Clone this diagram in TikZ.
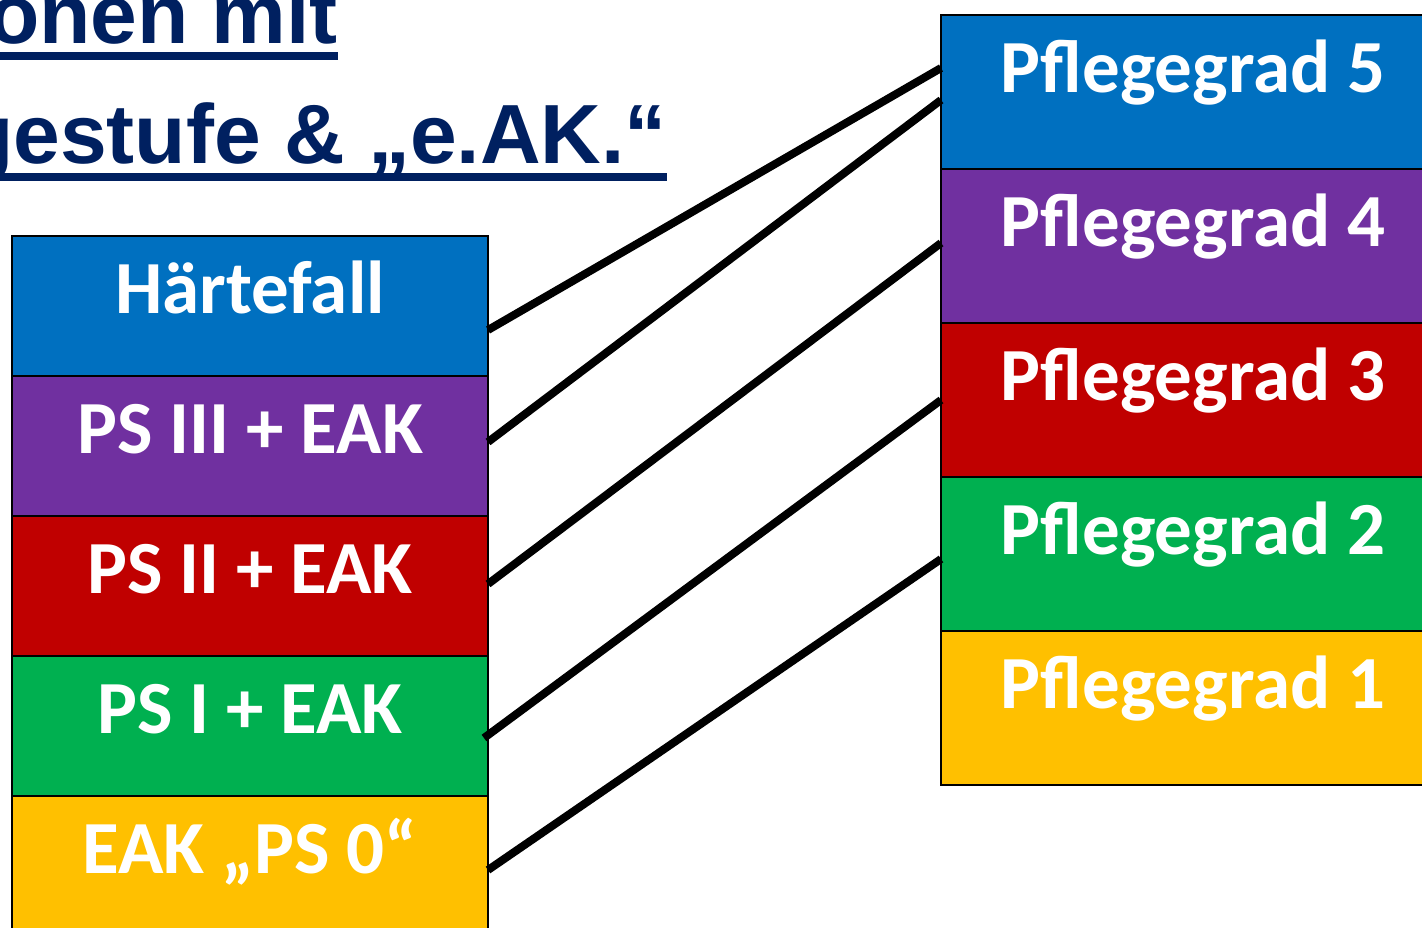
\documentclass[tikz,border=0pt]{standalone}
\usepackage{fontspec}
\setmainfont{Carlito}
\newfontfamily\arialfont{Liberation Sans}
\usetikzlibrary{positioning}
\definecolor{pgblue}{RGB}{0,112,192}
\definecolor{pgviolet}{RGB}{112,48,160}
\definecolor{pgred}{RGB}{192,0,0}
\definecolor{pggreen}{RGB}{0,176,80}
\definecolor{pgyellow}{RGB}{255,192,0}
\definecolor{navy}{RGB}{0,32,96}
\tikzstyle{stufe} = [rectangle, draw=black, line width=1pt, minimum width=238pt, minimum height=70pt, inner sep=0pt, outer sep=0pt, text=white, font=\fontsize{37.5}{37.5}\selectfont\bfseries, text height=38.5pt, text depth=31.5pt]
\tikzstyle{grad} = [stufe, minimum width=252pt, minimum height=77pt, text depth=38.5pt]
\tikzstyle{titel} = [inner sep=0pt, outer sep=0pt, text=navy, font=\arialfont\fontsize{42}{42}\selectfont\bfseries, anchor=base east]
\tikzstyle{ulin} = [navy, line width=4pt]
\tikzstyle{verb} = [black, line width=4pt]

\begin{document}
\begin{tikzpicture}[x=0.5pt, y=-0.5pt, node distance=0pt]

  \useasboundingbox (0,0) rectangle (1422,927);
  \clip (0,0) rectangle (1422,927);

  % title, cut at the page border
  \node (z1) [titel] at (338,43) {onen mit};
  \node (z2) [titel] at (667,163) {gestufe \& „e.AK.“};
  \draw [ulin] ([yshift=-6.5pt]z1.base west) -- ([yshift=-6.5pt]z1.base east);
  \draw [ulin] ([yshift=-7pt]z2.base west) -- ([yshift=-7pt]z2.base east);

  \node (hf)  [stufe, fill=pgblue] at (250,306) {Härtefall};
  \node (ps3) [stufe, fill=pgviolet, below=of hf] {PS III + EAK};
  \node (ps2) [stufe, fill=pgred, below=of ps3] {PS II + EAK};
  \node (ps1) [stufe, fill=pggreen, below=of ps2] {PS I + EAK};
  \node (ps0) [stufe, fill=pgyellow, below=of ps1] {EAK „PS 0“};

  \node (pg5) [grad, fill=pgblue] at (1193,92) {Pflegegrad 5};
  \node (pg4) [grad, fill=pgviolet, below=of pg5] {Pflegegrad 4};
  \node (pg3) [grad, fill=pgred, below=of pg4] {Pflegegrad 3};
  \node (pg2) [grad, fill=pggreen, below=of pg3] {Pflegegrad 2};
  \node (pg1) [grad, fill=pgyellow, below=of pg2] {Pflegegrad 1};

  \draw [verb] ([yshift=-47pt]hf.north east) -- ([yshift=-26.5pt]pg5.north west);
  \draw [verb] ([yshift=-33pt]ps3.north east) -- ([yshift=-42.5pt]pg5.north west);
  \draw [verb] ([yshift=-34pt]ps2.north east) -- ([yshift=-37pt]pg4.north west);
  \draw [verb] ([xshift=-2pt,yshift=-41pt]ps1.north east) -- ([yshift=-38.5pt]pg3.north west);
  \draw [verb] ([yshift=-37pt]ps0.north east) -- ([yshift=-41pt]pg2.north west);

\end{tikzpicture}
\end{document}
